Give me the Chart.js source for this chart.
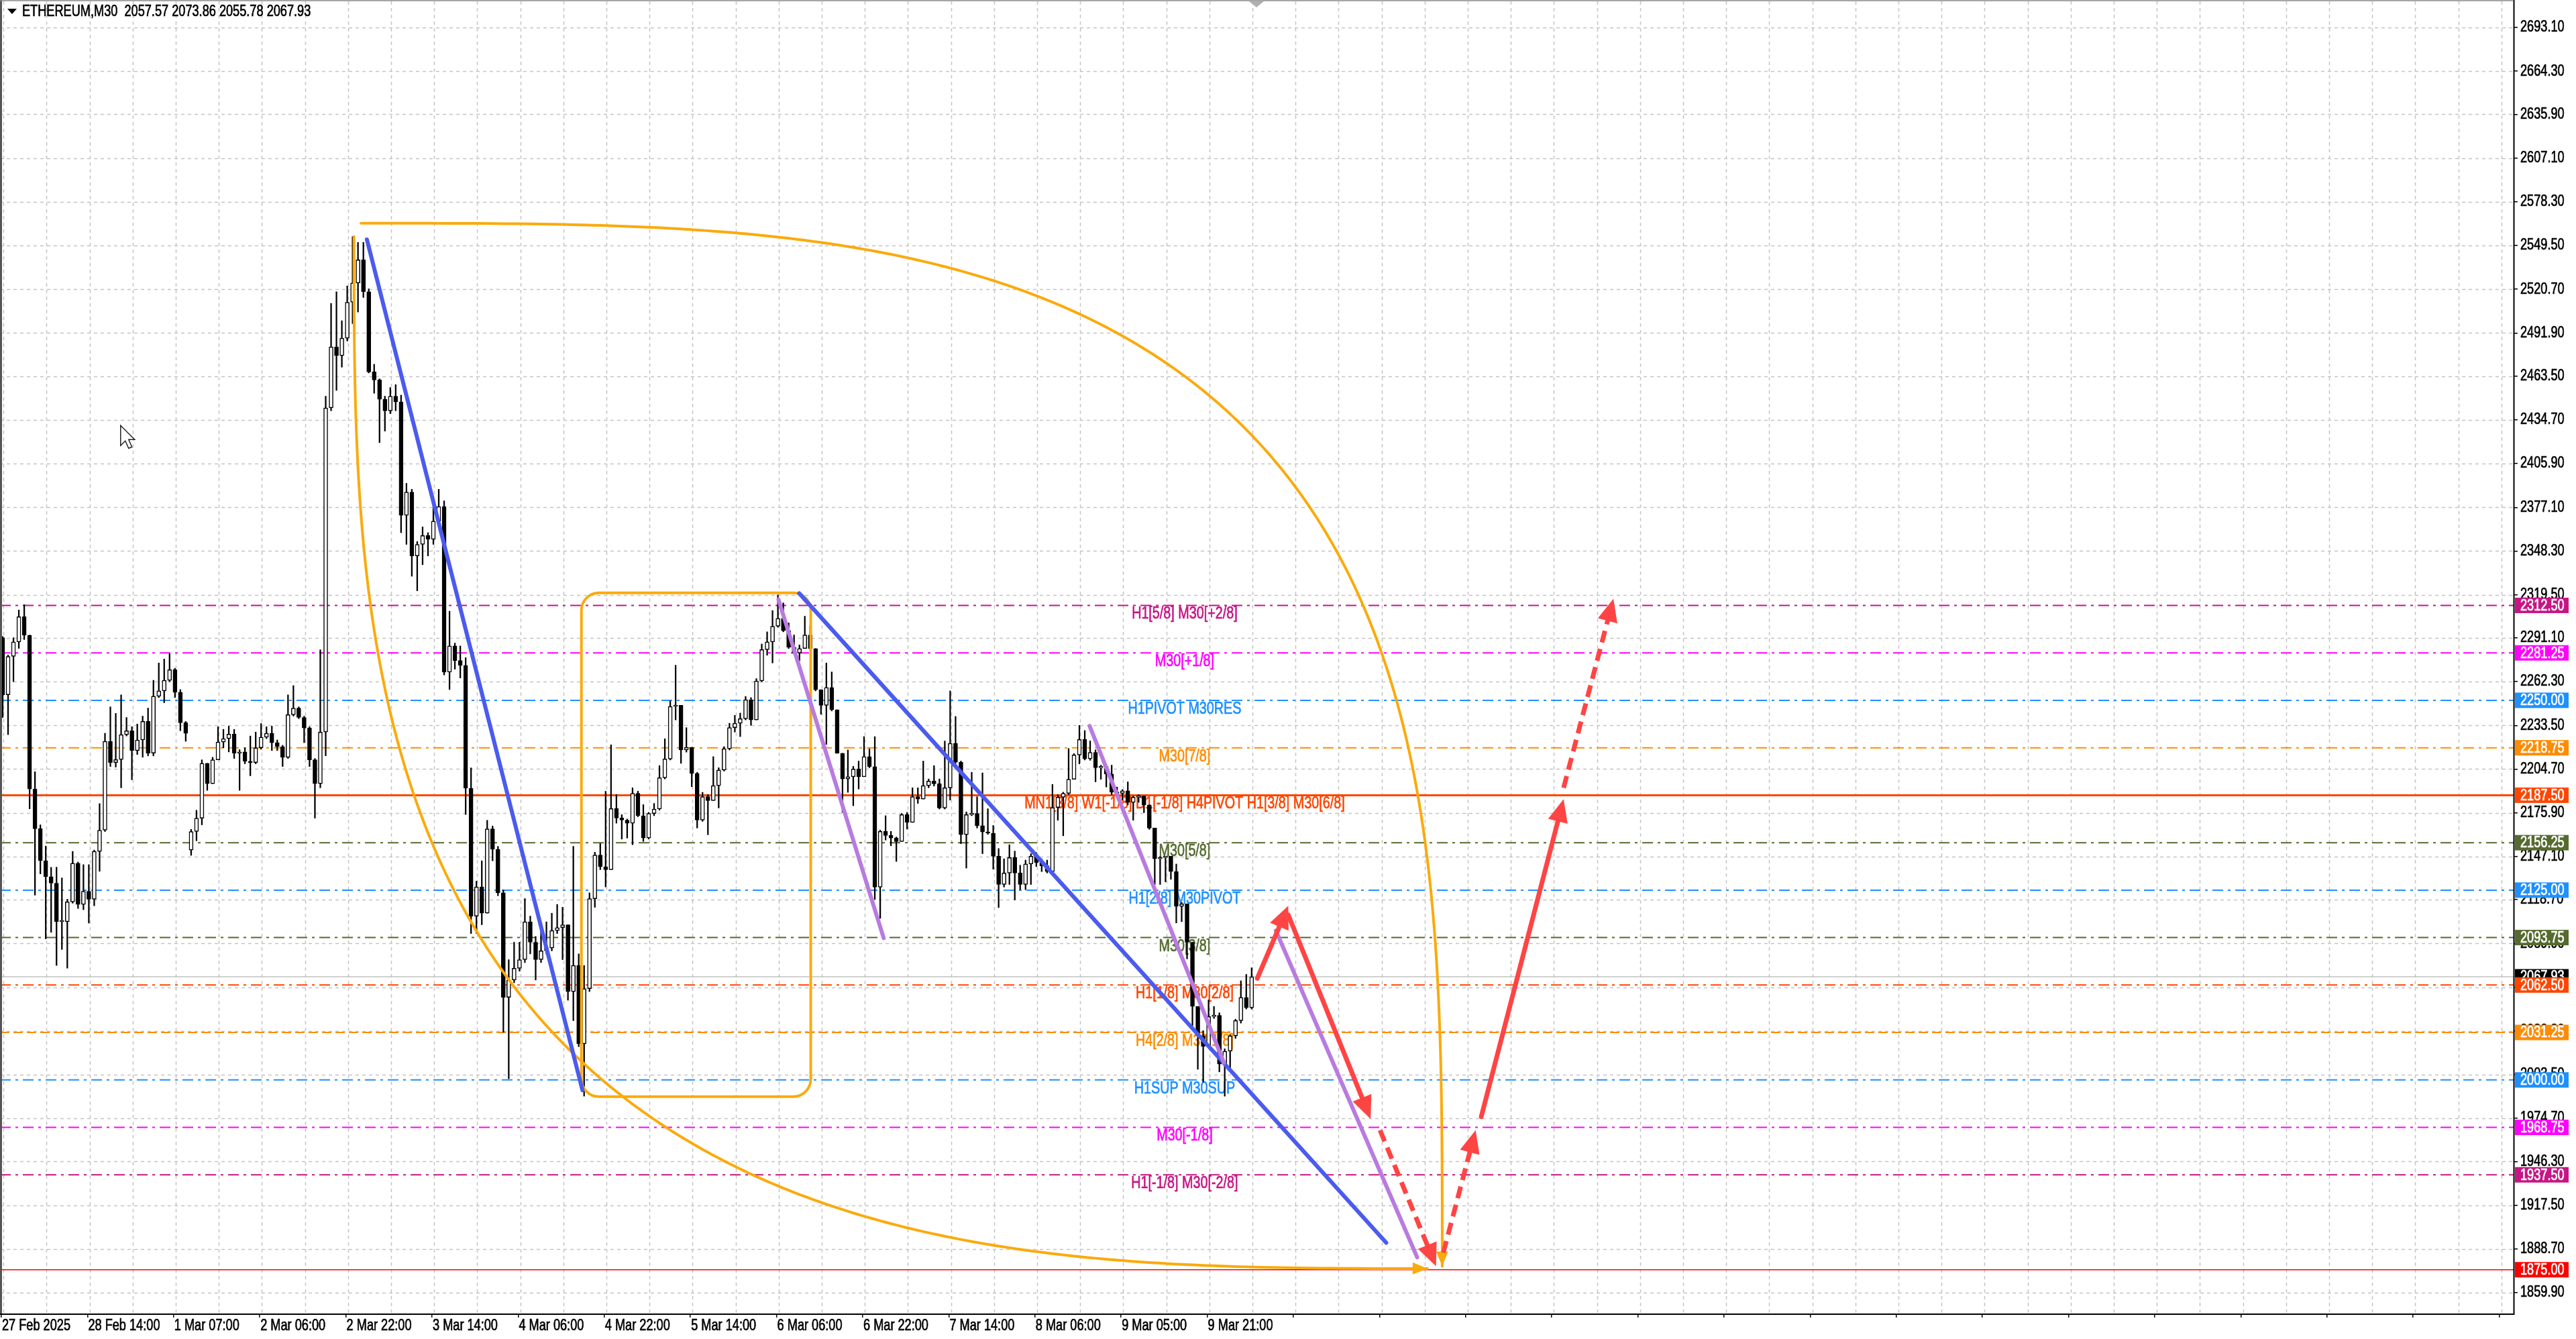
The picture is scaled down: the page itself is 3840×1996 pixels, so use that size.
<!DOCTYPE html>
<html>
<head>
<meta charset="utf-8">
<title>ETHEREUM,M30</title>
<script src="https://cdn.jsdelivr.net/npm/chart.js@4.4.1/dist/chart.umd.min.js"></script>
<style>
html,body{margin:0;padding:0;background:#fff;overflow:hidden}
canvas{display:block}
</style>
</head>
<body>
<canvas id="chart" width="3840" height="1996"></canvas>
<script>
// H1 candles (each covers two M30 slots)
const opens=[2291.2,2253.6,2278.9,2288.5,2305.1,2292.9,2191.6,2165.4,2144.4,2133.9,
2129.6,2104.2,2104.2,2117.3,2142.7,2115.6,2124.3,2119.0,2150.5,2164.5,
2223.0,2209.0,2211.0,2227.4,2230.0,2216.9,2223.9,2236.1,2215.2,2252.7,
2256.2,2263.2,2270.2,2255.3,2235.2,2151.4,2163.6,2172.4,2208.5,2195.1,
2210.8,2222.5,2224.8,2227.7,2215.2,2216.0,2209.9,2209.0,2218.7,2225.7,
2228.3,2222.1,2219.5,2212.5,2240.5,2244.9,2238.7,2231.8,2210.8,2195.1,
2229.1,2442.6,2482.8,2477.0,2488.5,2512.2,2524.8,2540.1,2519.1,2466.3,
2461.0,2448.3,2440.7,2450.3,2446.5,2371.8,2387.1,2345.1,2352.7,2358.5,
2356.0,2368.0,2377.6,2268.6,2285.8,2276.2,2273.0,2192.1,2107.9,2127.1,
2109.8,2165.3,2151.9,2123.2,2054.4,2065.8,2073.5,2079.2,2104.1,2090.7,
2079.2,2085.0,2086.9,2098.4,2100.3,2102.2,2058.2,2075.4,2023.8,2060.1,
2119.4,2148.1,2140.4,2138.5,2178.7,2172.5,2171.1,2169.0,2188.7,2174.0,
2159.3,2175.5,2178.4,2199.0,2211.4,2246.0,2246.7,2217.3,2219.0,2201.9,
2171.1,2186.5,2184.0,2193.8,2204.1,2218.1,2232.0,2234.9,2237.9,2250.4,
2237.1,2262.8,2283.4,2288.5,2298.8,2304.0,2295.9,2284.9,2281.2,2284.1,
2293.0,2284.1,2257.0,2246.7,2258.4,2243.8,2215.1,2198.2,2199.7,2204.8,
2199.7,2212.9,2206.3,2127.0,2163.7,2161.0,2159.3,2157.0,2174.7,2169.6,
2186.5,2185.0,2193.8,2196.8,2195.0,2179.1,2192.4,2221.7,2209.2,2161.5,
2174.7,2175.5,2167.4,2163.3,2162.5,2147.3,2128.7,2136.3,2146.4,2136.3,
2128.7,2142.2,2147.3,2143.1,2141.0,2137.2,2179.4,2186.2,2188.7,2198.0,
2214.0,2224.2,2211.5,2215.7,2205.6,2206.4,2201.4,2189.5,2188.7,2190.4,
2182.8,2186.2,2187.0,2181.1,2165.9,2145.6,2146.4,2147.3,2137.2,2114.3,
2116.0,2090.7,2048.4,2029.0,2022.2,2041.7,2042.5,2010.4,2018.9,2029.0,
2039.1,2054.3,2047.6];
const highs=[2292.0,2279.8,2291.2,2309.5,2313.0,2292.9,2203.0,2168.0,2154.0,2140.0,
2140.1,2133.0,2119.0,2150.5,2143.5,2141.8,2141.8,2151.4,2182.0,2228.3,
2245.7,2241.4,2253.6,2238.7,2232.6,2234.4,2239.6,2244.9,2263.2,2274.6,
2277.2,2280.7,2271.1,2257.1,2236.1,2165.0,2177.6,2210.8,2208.5,2212.5,
2232.6,2230.9,2233.0,2230.9,2217.5,2218.7,2226.5,2229.1,2234.7,2232.6,
2233.0,2223.9,2220.4,2253.6,2259.7,2245.7,2239.6,2232.6,2211.7,2283.3,
2450.3,2511.4,2519.1,2500.0,2522.9,2555.4,2551.6,2551.6,2521.0,2471.3,
2461.7,2450.3,2456.0,2457.9,2451.0,2392.9,2389.0,2354.6,2364.2,2360.4,
2377.6,2389.0,2381.4,2308.7,2287.7,2285.8,2278.1,2205.5,2130.9,2144.3,
2171.0,2167.2,2153.8,2125.1,2079.2,2090.7,2090.7,2119.4,2107.9,2094.5,
2102.2,2104.1,2109.8,2115.6,2113.7,2102.2,2153.8,2083.0,2075.4,2123.2,
2150.0,2155.7,2190.1,2220.7,2188.0,2174.7,2171.8,2192.4,2190.2,2181.3,
2176.2,2182.1,2207.0,2224.7,2249.6,2273.1,2246.7,2232.0,2218.1,2202.6,
2189.4,2188.0,2212.9,2205.6,2219.5,2234.9,2240.1,2241.6,2252.6,2251.8,
2264.3,2287.1,2295.1,2309.1,2319.4,2314.2,2301.0,2293.0,2286.5,2305.4,
2298.8,2284.1,2257.0,2274.6,2268.7,2243.8,2215.1,2217.3,2206.5,2210.0,
2226.1,2218.1,2226.1,2164.5,2174.0,2163.7,2160.0,2175.5,2176.2,2192.4,
2192.4,2210.0,2198.2,2207.0,2198.2,2223.2,2256.2,2239.4,2210.0,2176.5,
2202.6,2186.5,2202.2,2178.6,2167.6,2152.4,2145.6,2154.9,2150.7,2141.4,
2144.8,2149.0,2149.8,2145.6,2144.8,2194.6,2187.9,2189.5,2218.3,2214.9,
2233.5,2230.1,2223.3,2217.4,2207.3,2206.4,2207.3,2192.9,2191.2,2196.3,
2187.0,2187.9,2187.0,2181.1,2165.9,2147.3,2147.3,2143.1,2142.2,2116.9,
2113.5,2090.7,2048.4,2032.4,2052.7,2048.4,2044.2,2020.5,2029.8,2040.0,
2065.3,2069.5,2073.86];
const lows=[2238.7,2227.4,2262.3,2284.2,2290.0,2178.5,2121.7,2135.7,2092.9,2097.2,
2075.4,2085.9,2073.6,2116.4,2112.9,2112.1,2103.3,2114.7,2137.4,2163.6,
2206.4,2206.0,2192.4,2226.5,2197.7,2214.3,2212.5,2213.4,2213.4,2251.8,
2248.4,2262.3,2251.8,2230.0,2223.0,2147.9,2157.5,2168.0,2190.7,2195.1,
2210.8,2218.7,2216.0,2211.7,2190.7,2208.2,2200.3,2208.2,2217.8,2224.8,
2216.9,2216.9,2206.4,2211.7,2239.6,2237.9,2222.1,2206.4,2172.4,2192.4,
2213.4,2440.7,2454.1,2469.4,2486.6,2498.1,2505.7,2515.3,2465.6,2452.2,
2419.7,2427.3,2438.8,2440.7,2360.4,2352.7,2331.7,2322.1,2339.3,2345.1,
2352.7,2364.2,2266.7,2257.1,2270.5,2264.7,2174.8,2096.4,2096.4,2102.2,
2109.8,2144.3,2121.3,2031.4,2000.8,2064.0,2071.6,2077.3,2083.0,2065.8,
2077.3,2083.0,2085.0,2096.4,2079.2,2052.5,2039.1,2021.9,1989.3,2058.2,
2113.7,2138.5,2127.1,2138.5,2169.1,2158.6,2159.3,2154.9,2173.3,2157.1,
2158.6,2174.0,2177.7,2198.2,2210.7,2237.1,2208.5,2215.9,2193.1,2165.9,
2170.3,2161.5,2184.0,2179.1,2203.4,2217.3,2229.1,2226.1,2237.1,2233.5,
2237.1,2262.1,2279.7,2274.6,2298.1,2295.1,2284.1,2280.5,2276.0,2284.1,
2283.4,2256.2,2240.8,2221.0,2243.0,2215.1,2176.2,2189.4,2180.6,2191.6,
2199.7,2205.6,2118.9,2106.4,2158.0,2154.2,2143.9,2158.6,2165.2,2169.6,
2182.1,2185.0,2192.4,2193.5,2178.4,2178.4,2184.3,2208.5,2155.6,2139.5,
2174.0,2165.9,2149.0,2161.7,2138.8,2113.5,2127.0,2128.7,2118.6,2125.3,
2125.3,2128.7,2140.5,2137.2,2136.3,2136.3,2171.0,2160.8,2187.9,2198.0,
2208.1,2210.7,2210.5,2196.3,2198.0,2192.9,2187.9,2187.0,2184.5,2181.1,
2171.0,2182.8,2176.0,2165.0,2128.7,2128.7,2130.4,2132.1,2103.4,2104.2,
2079.7,2035.8,2007.0,1998.6,2022.2,2040.5,2005.3,1989.3,2007.9,2027.3,
2037.4,2046.7,2046.7];
const closes=[2253.6,2278.9,2288.5,2305.1,2292.9,2191.6,2165.4,2144.4,2133.9,2129.6,
2104.2,2104.2,2117.3,2142.7,2115.6,2124.3,2119.0,2150.5,2164.5,2223.0,
2209.0,2211.0,2227.4,2230.0,2216.9,2223.9,2236.1,2215.2,2252.7,2256.2,
2263.2,2270.2,2255.3,2235.2,2228.3,2163.6,2172.4,2208.5,2195.1,2210.8,
2222.5,2224.8,2227.7,2215.2,2216.0,2209.9,2209.0,2218.7,2225.7,2228.3,
2222.1,2219.5,2212.5,2240.5,2244.9,2238.7,2231.8,2210.8,2195.1,2229.1,
2442.6,2482.8,2477.0,2488.5,2512.2,2524.8,2540.1,2519.1,2466.3,2461.0,
2448.3,2440.7,2450.3,2446.5,2371.8,2387.1,2345.1,2352.7,2358.5,2356.0,
2368.0,2377.6,2268.6,2285.8,2276.2,2273.0,2192.1,2107.9,2127.1,2109.8,
2165.3,2151.9,2123.2,2054.4,2065.8,2073.5,2079.2,2104.1,2090.7,2079.2,
2085.0,2086.9,2098.4,2100.3,2102.2,2058.2,2075.4,2023.8,2060.1,2119.4,
2148.1,2140.4,2138.5,2178.7,2172.5,2171.1,2169.0,2188.7,2174.0,2159.3,
2175.5,2178.4,2199.0,2211.4,2246.0,2246.7,2217.3,2219.0,2201.9,2171.1,
2186.5,2184.0,2193.8,2204.1,2218.1,2232.0,2234.9,2237.9,2250.4,2237.1,
2262.8,2283.4,2288.5,2298.8,2304.0,2295.9,2284.9,2281.2,2284.1,2293.0,
2284.1,2257.0,2246.7,2258.4,2243.8,2215.1,2198.2,2199.7,2204.8,2199.7,
2212.9,2206.3,2127.0,2163.7,2161.0,2159.3,2157.0,2174.7,2169.6,2186.5,
2185.0,2193.8,2196.8,2195.0,2179.1,2192.4,2221.7,2209.2,2161.5,2174.7,
2175.5,2167.4,2163.3,2162.5,2147.3,2128.7,2136.3,2146.4,2136.3,2128.7,
2142.2,2147.3,2143.1,2141.0,2137.2,2179.4,2186.2,2188.7,2198.0,2214.0,
2224.2,2211.5,2215.7,2205.6,2206.4,2201.4,2189.5,2188.7,2190.4,2182.8,
2186.2,2187.0,2181.1,2165.9,2145.6,2146.4,2147.3,2137.2,2114.3,2116.0,
2090.7,2048.4,2029.0,2022.2,2041.7,2042.5,2010.4,2018.9,2029.0,2039.1,
2054.3,2047.6,2067.93];

const timeLabels=['27 Feb 2025','28 Feb 14:00','1 Mar 07:00','2 Mar 06:00','2 Mar 22:00','3 Mar 14:00','4 Mar 06:00','4 Mar 22:00','5 Mar 14:00','6 Mar 06:00','6 Mar 22:00','7 Mar 14:00','8 Mar 06:00','9 Mar 05:00','9 Mar 21:00'];
const priceTicks=[2693.10,2664.30,2635.90,2607.10,2578.30,2549.50,2520.70,2491.90,2463.50,2434.70,2405.90,2377.10,2348.30,2319.50,2291.10,2262.30,2233.50,2204.70,2175.90,2147.10,2118.70,2089.90,2061.10,2032.30,2003.50,1974.70,1946.30,1917.50,1888.70,1859.90];

const levelPrices=[2312.5,2281.25,2250,2218.75,2187.5,2156.25,2125,2093.75,2062.5,2031.25,2000,1968.75,1937.5,1875];
const levelNames=['H1[5/8] M30[+2/8]','M30[+1/8]','H1PIVOT M30RES','M30[7/8]','MN1[3/8] W1[-1/8] D1[-1/8] H4PIVOT H1[3/8] M30[6/8]','M30[5/8]','H1[2/8] M30PIVOT','M30[3/8]','H1[1/8] M30[2/8]','H4[2/8] M30[1/8]','H1SUP M30SUP','M30[-1/8]','H1[-1/8] M30[-2/8]',''];
const levelColors=['#C71585','#FF00FF','#1E90FF','#FF8C00','#FF4500','#556B2F','#1E90FF','#556B2F','#FF4500','#FF8C00','#1E90FF','#FF00FF','#C71585','#FF0000'];
const levelStyles=['dd','dd','dd','dd','solid','dd','dd','dd','dd','dash','dd','dd','dd','thin'];
const lastPrice=2067.93;
const symbolTitle='ETHEREUM,M30  2057.57 2073.86 2055.78 2067.93';

// drawn objects, in [bar, price] pairs
const blueLines=[[135.8,2553.5,215.9,1993.2],[296.4,2320.5,514.5,1892.8]];
const purpleLines=[[288.7,2316.4,327.8,2093.4],[404.3,2233.1,454.2,2011.3],[473.5,2098.3,526.0,1883.2]];
const redArrows=[[466.6,2066.9,478.1,2114.7,0],[478.1,2108.7,508.7,1974.3,0],[512.2,1966.9,533.0,1877.3,1],[535.7,1886.2,547.7,1966.9,1],[549.8,1975.8,580.4,2184.9,0],[580.4,2192.4,598.9,2316.9,1]];
const orangeBox=[215.5,2320.8,300.7,1989.0];
const arcUpper=[133.6,1877.3,401.7,686.9];
const arcLower=[529.8,2555.4,398.8,679.6];
const cursorAt=[44.3,2431.0];

const FONT='"Liberation Sans",Arial,sans-serif';
const SX=0.79;

const candleX=closes.map((c,k)=>2*k+0.5);
const wickData=closes.map((c,k)=>({x:candleX[k],y:[Math.min(lows[k],opens[k],c),Math.max(highs[k],opens[k],c)]}));
const bodyData=closes.map((c,k)=>({x:candleX[k],y:[Math.min(opens[k],c),Math.max(opens[k],c)]}));
const bodyFill=closes.map((c,k)=>c>=opens[k]?'#ffffff':'#000000');

function sText(ctx,s,x,y,size,col,align){
  ctx.save();
  ctx.font=size+'px '+FONT;ctx.fillStyle=col;ctx.strokeStyle=col;ctx.lineWidth=0.7;
  ctx.textAlign=align||'left';ctx.textBaseline='middle';
  ctx.translate(x,y);ctx.scale(SX,1);ctx.fillText(s,0,0);ctx.strokeText(s,0,0);
  ctx.restore();
}
function head(ctx,x1,y1,x2,y2,len,w,col){
  const a=Math.atan2(y2-y1,x2-x1),ca=Math.cos(a),sa=Math.sin(a);
  ctx.fillStyle=col;ctx.beginPath();ctx.moveTo(x2,y2);
  ctx.lineTo(x2-len*ca+w*sa,y2-len*sa-w*ca);
  ctx.lineTo(x2-len*ca-w*sa,y2-len*sa+w*ca);
  ctx.closePath();ctx.fill();
}

const backdrop={
  id:'backdrop',
  beforeDatasetsDraw(chart){
    const {ctx,chartArea:ca,scales:{x,y}}=chart;
    ctx.save();
    ctx.beginPath();ctx.rect(ca.left,ca.top,ca.right-ca.left,ca.bottom-ca.top);ctx.clip();
    // grid
    ctx.strokeStyle='#c4c4c4';ctx.lineWidth=1.5;ctx.setLineDash([5,5]);
    priceTicks.forEach(v=>{const yy=Math.round(y.getPixelForValue(v))+0.5;ctx.beginPath();ctx.moveTo(ca.left,yy);ctx.lineTo(ca.right,yy);ctx.stroke()});
    for(let v=0;v<=928;v+=16){const xx=Math.round(x.getPixelForValue(v+0.8))+0.5;ctx.beginPath();ctx.moveTo(xx,ca.top);ctx.lineTo(xx,ca.bottom);ctx.stroke()}
    // current price
    ctx.setLineDash([]);ctx.strokeStyle='#c0c0c0';ctx.lineWidth=1.5;
    const cy=y.getPixelForValue(lastPrice);ctx.beginPath();ctx.moveTo(ca.left,cy);ctx.lineTo(ca.right,cy);ctx.stroke();
    // levels
    levelPrices.forEach((p,i)=>{
      const st=levelStyles[i];
      ctx.strokeStyle=levelColors[i];
      ctx.lineWidth=st==='solid'?3:(st==='thin'?1.5:2);
      ctx.setLineDash(st==='dd'?[16,7,4,7]:(st==='dash'?[14,6]:[]));
      const ly=y.getPixelForValue(p);
      ctx.beginPath();ctx.moveTo(ca.left,ly);ctx.lineTo(ca.right,ly);ctx.stroke();
    });
    ctx.setLineDash([]);
    const tx=x.getPixelForValue(439.6);
    levelPrices.forEach((p,i)=>{
      if(levelNames[i])sText(ctx,levelNames[i],tx,y.getPixelForValue(p)+13,25,levelColors[i],'center');
    });
    ctx.restore();
  }
};

const drawings={
  id:'drawings',
  afterDatasetsDraw(chart){
    const {ctx,chartArea:ca,scales:{x,y}}=chart;
    const px=v=>x.getPixelForValue(v),py=v=>y.getPixelForValue(v);
    ctx.save();
    ctx.beginPath();ctx.rect(ca.left,ca.top,ca.right-ca.left,ca.bottom-ca.top);ctx.clip();
    ctx.lineCap='round';ctx.lineJoin='round';
    const OR='#FBAA0C';
    // orange arcs (quarter superellipses)
    const drawArc=(a,up,se)=>{
      const pts=[];
      for(let i=0;i<=300;i++){
        const t=up?(1-i/300)*Math.PI/2:(i/300)*Math.PI/2;
        const c=Math.pow(Math.cos(t),2/se),s=Math.pow(Math.sin(t),2/se);
        pts.push(up?[px(a[0]+a[2]*c),py(a[1]+a[3]*s)]:[px(a[0]-a[2]*c),py(a[1]-a[3]*s)]);
      }
      ctx.strokeStyle=OR;ctx.lineWidth=4;ctx.beginPath();
      pts.forEach((p,i)=>i?ctx.lineTo(p[0],p[1]):ctx.moveTo(p[0],p[1]));
      ctx.stroke();
      const e=pts[pts.length-1],b=pts[pts.length-12];
      head(ctx,b[0],b[1],e[0],e[1],22,9,OR);
    };
    drawArc(arcUpper,true,3.3);
    drawArc(arcLower,false,3.0);
    // rounded box
    const bx1=px(orangeBox[0]),by1=py(orangeBox[1]),bx2=px(orangeBox[2]),by2=py(orangeBox[3]),r=26;
    ctx.strokeStyle=OR;ctx.lineWidth=4;ctx.beginPath();
    ctx.moveTo(bx1+r,by1);ctx.arcTo(bx2,by1,bx2,by2,r);ctx.arcTo(bx2,by2,bx1,by2,r);ctx.arcTo(bx1,by2,bx1,by1,r);ctx.arcTo(bx1,by1,bx2,by1,r);ctx.closePath();ctx.stroke();
    // trend lines
    ctx.lineWidth=6;
    ctx.strokeStyle='#4B5BEE';
    blueLines.forEach(l=>{ctx.beginPath();ctx.moveTo(px(l[0]),py(l[1]));ctx.lineTo(px(l[2]),py(l[3]));ctx.stroke()});
    ctx.strokeStyle='#B87BE0';
    purpleLines.forEach(l=>{ctx.beginPath();ctx.moveTo(px(l[0]),py(l[1]));ctx.lineTo(px(l[2]),py(l[3]));ctx.stroke()});
    // red arrows
    const RED='#FF4444';
    redArrows.forEach(a=>{
      const x1=px(a[0]),y1=py(a[1]),x2=px(a[2]),y2=py(a[3]);
      const L=Math.hypot(x2-x1,y2-y1),k=(L-26)/L;
      ctx.strokeStyle=RED;ctx.lineWidth=7;ctx.lineCap=a[4]?'butt':'round';
      ctx.setLineDash(a[4]?[18,10]:[]);
      ctx.beginPath();ctx.moveTo(x1,y1);ctx.lineTo(x1+(x2-x1)*k,y1+(y2-y1)*k);ctx.stroke();
      ctx.setLineDash([]);
      head(ctx,x1,y1,x2,y2,34,15,RED);
    });
    // mouse pointer left on the chart
    const mx=px(cursorAt[0]),my=py(cursorAt[1]);
    ctx.lineCap='butt';ctx.lineJoin='miter';
    ctx.beginPath();
    ctx.moveTo(mx,my);ctx.lineTo(mx,my+30);ctx.lineTo(mx+7,my+23);ctx.lineTo(mx+12,my+34);ctx.lineTo(mx+17,my+32);
    ctx.lineTo(mx+12,my+21);ctx.lineTo(mx+21,my+21);ctx.closePath();
    ctx.fillStyle='#fff';ctx.fill();ctx.strokeStyle='#222';ctx.lineWidth=1.5;ctx.stroke();
    ctx.restore();
  },
  afterDraw(chart){
    const {ctx,chartArea:ca,scales:{x,y}}=chart;
    ctx.save();
    // frame
    ctx.strokeStyle='#000';ctx.lineWidth=2;
    ctx.beginPath();ctx.moveTo(ca.right+0.5,0);ctx.lineTo(ca.right+0.5,ca.bottom+1);ctx.lineTo(0,ca.bottom+1);ctx.stroke();
    ctx.strokeStyle='#555';ctx.lineWidth=3;
    ctx.beginPath();ctx.moveTo(1.5,0);ctx.lineTo(1.5,ca.bottom);ctx.stroke();
    ctx.strokeStyle='#888';ctx.lineWidth=1.5;
    ctx.beginPath();ctx.moveTo(0,1);ctx.lineTo(ca.right,1);ctx.stroke();
    // shift marker
    ctx.fillStyle='#b0b0b0';ctx.beginPath();ctx.moveTo(1862,2);ctx.lineTo(1884,2);ctx.lineTo(1873,11);ctx.closePath();ctx.fill();
    // axis labels
    priceTicks.forEach(v=>sText(ctx,v.toFixed(2),ca.right+10,y.getPixelForValue(v),23,'#000','left'));
    timeLabels.forEach((s,i)=>sText(ctx,s,x.getPixelForValue(i*32)+1,ca.bottom+19,23,'#000','left'));
    // price boxes
    const box=(p,bg)=>{
      const yy=y.getPixelForValue(p);
      ctx.fillStyle=bg;ctx.fillRect(ca.right+2,yy-11.5,80,23);
      sText(ctx,p.toFixed(2),ca.right+10,yy+1,23,'#fff','left');
    };
    box(lastPrice,'#000');
    levelPrices.forEach((p,i)=>box(p,levelColors[i]));
    // title
    ctx.fillStyle='#000';
    ctx.beginPath();ctx.moveTo(11,13);ctx.lineTo(25,13);ctx.lineTo(18,21);ctx.closePath();ctx.fill();
    sText(ctx,symbolTitle,33,18,23,'#000','left');
    ctx.restore();
  }
};

new Chart(document.getElementById('chart'),{
  type:'bar',
  data:{datasets:[
    {label:'body',data:bodyData,backgroundColor:bodyFill,borderColor:'#000',borderWidth:1.5,borderSkipped:false,barThickness:6,minBarLength:2,grouped:false,order:1},
    {label:'wick',data:wickData,backgroundColor:'#000',borderWidth:0,barThickness:1.6,grouped:false,order:2}
  ]},
  options:{
    responsive:false,animation:false,devicePixelRatio:1,
    layout:{padding:{left:0,top:2,right:0,bottom:0}},
    plugins:{legend:{display:false},tooltip:{enabled:false}},
    scales:{
      x:{type:'linear',min:-0.4984,max:933.33,offset:false,
        afterBuildTicks:s=>{const t=[];for(let v=0;v<=928;v+=32)t.push({value:v});s.ticks=t},
        afterFit:s=>{s.height=38},
        grid:{drawOnChartArea:false,offset:false,tickLength:6,color:'#000',lineWidth:1.5},
        border:{display:false},
        ticks:{display:false}
      },
      y:{type:'linear',position:'right',min:1846.17,max:2710.33,
        afterBuildTicks:s=>{s.ticks=priceTicks.map(v=>({value:v}))},
        afterFit:s=>{s.width=93},
        grid:{drawOnChartArea:false,tickLength:6,color:'#000',lineWidth:1.5},
        border:{display:false},
        ticks:{display:false}
      }
    }
  },
  plugins:[backdrop,drawings]
});
</script>
</body>
</html>
